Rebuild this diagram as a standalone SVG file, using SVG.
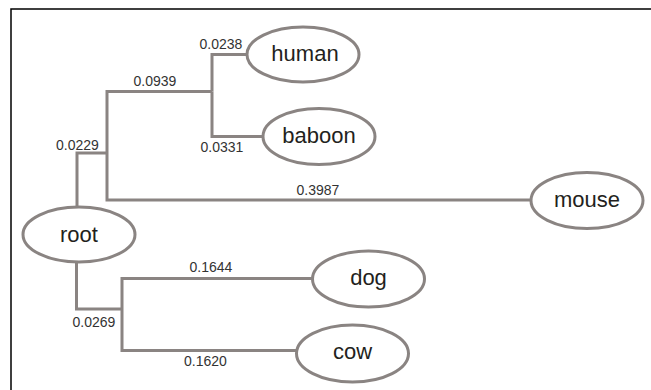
<svg xmlns="http://www.w3.org/2000/svg" width="651" height="390" viewBox="0 0 651 390">
  <style>
    .edge { fill: none; stroke: #8a8482; stroke-width: 3; stroke-linejoin: miter; stroke-linecap: butt; }
    .node ellipse { fill: #ffffff; stroke: #8a8482; stroke-width: 3; }
    .node text { font-family: "Liberation Sans", Arial, sans-serif; font-size: 22px; fill: #231f20; text-anchor: middle; }
    .len { font-family: "Liberation Sans", Arial, sans-serif; font-size: 14px; fill: #333333; text-anchor: middle; }
  </style>
  <rect width="651" height="390" fill="#ffffff"/>
  <!-- frame -->
  <path d="M11,390 V9 H651" fill="none" stroke="#000000" stroke-width="1.5"/>

  <!-- branches -->
  <g id="edges">
    <path class="edge" d="M77,207 V153 H107"/>
    <path class="edge" d="M107,153 V91.5 H212"/>
    <path class="edge" d="M107,153 V200 H531"/>
    <path class="edge" d="M212,91.5 V54.5 H247"/>
    <path class="edge" d="M212,91.5 V136.5 H263"/>
    <path class="edge" d="M76.5,262 V309 H122"/>
    <path class="edge" d="M122,309 V278.5 H313"/>
    <path class="edge" d="M122,309 V350.5 H297"/>
    <text class="len" x="221" y="48.5">0.0238</text>
    <text class="len" x="155" y="86">0.0939</text>
    <text class="len" x="222" y="152">0.0331</text>
    <text class="len" x="77.5" y="150">0.0229</text>
    <text class="len" x="318" y="195">0.3987</text>
    <text class="len" x="211" y="272">0.1644</text>
    <text class="len" x="94" y="327">0.0269</text>
    <text class="len" x="205.5" y="366">0.1620</text>
  </g>

  <g id="root" class="node">
    <ellipse cx="79" cy="234.5" rx="56" ry="27.5"/>
    <text x="79" y="242">root</text>
  </g>
  <g id="human" class="node">
    <ellipse cx="303" cy="54.5" rx="56" ry="27.5"/>
    <text x="305" y="61">human</text>
  </g>
  <g id="baboon" class="node">
    <ellipse cx="319" cy="136.5" rx="56" ry="28"/>
    <text x="319" y="143">baboon</text>
  </g>
  <g id="mouse" class="node">
    <ellipse cx="587" cy="200.5" rx="56" ry="28"/>
    <text x="587" y="207">mouse</text>
  </g>
  <g id="dog" class="node">
    <ellipse cx="368.5" cy="279" rx="56" ry="28"/>
    <text x="368.5" y="285">dog</text>
  </g>
  <g id="cow" class="node">
    <ellipse cx="352.5" cy="353.5" rx="56" ry="28.5"/>
    <text x="352.5" y="359">cow</text>
  </g>
</svg>
